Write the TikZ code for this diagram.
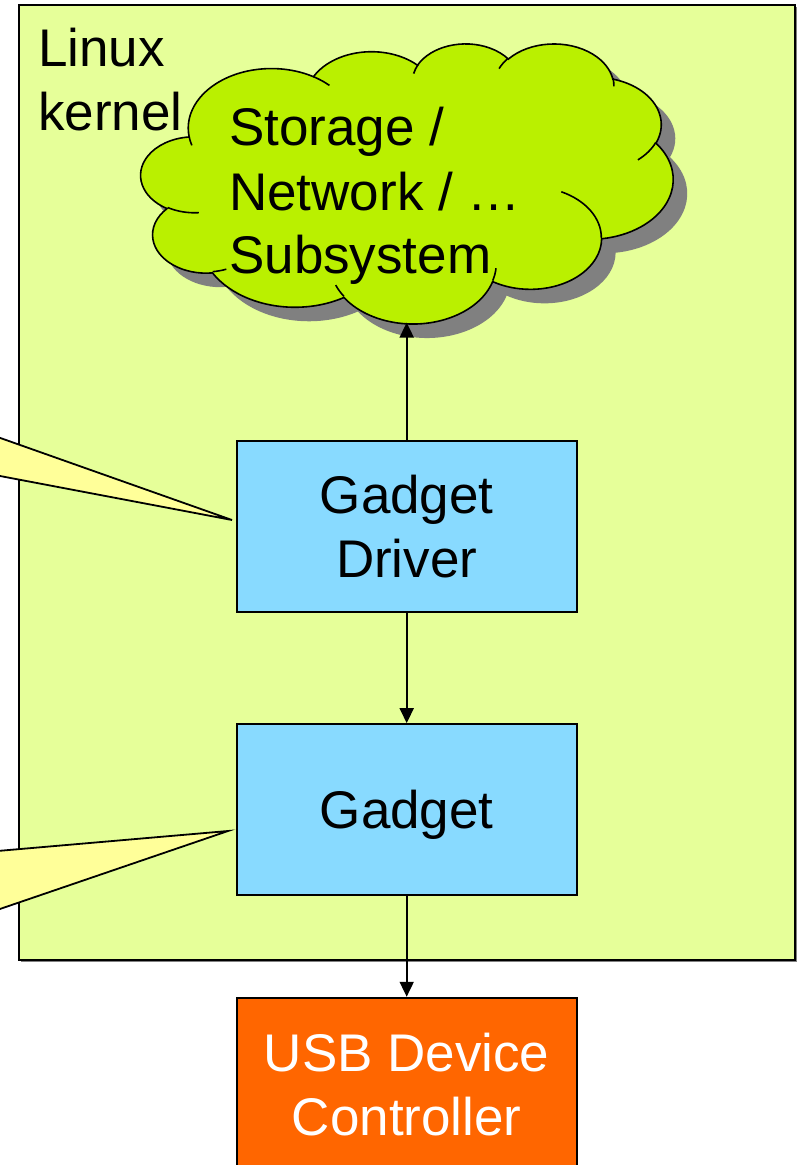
\documentclass[tikz,border=0pt]{standalone}
\usepackage{fontspec}
\setmainfont{Liberation Sans}
\usetikzlibrary{arrows.meta}
\definecolor{kernelbg}{RGB}{230,255,153}
\definecolor{cloudgreen}{RGB}{186,240,0}
\definecolor{boxblue}{RGB}{136,218,255}
\definecolor{usborange}{RGB}{255,102,0}
\definecolor{calloutyellow}{RGB}{255,255,153}
\definecolor{shadowgray}{RGB}{128,128,128}

% cloud (PowerPoint preset geometry, path units /1000) mapped to box (141,43)-(673,323)
\def\cldsx{12.3148148}
\def\cldsy{6.4814815}
\def\cldox{141}
\def\cldoy{43}
\newcommand\cldmove[2]{%
  \pgfmathsetmacro\cldtx{\cldox+#1*\cldsx}%
  \pgfmathsetmacro\cldty{\cldoy+#2*\cldsy}%
  \xdef\cldpath{\cldpath (\cldtx,\cldty)}}
\newcommand\cldarc[4]{%
  \pgfmathsetmacro\cldr{#1/#2}%
  \pgfmathsetmacro\cldts{atan2(sin(#3)*\cldr,cos(#3))}%
  \pgfmathsetmacro\cldte{atan2(sin(#3+#4)*\cldr,cos(#3+#4))}%
  \pgfmathsetmacro\cldd{-1*mod(\cldte-\cldts+720,360)}%
  \pgfmathsetmacro\cldns{-1*(\cldts)}%
  \pgfmathsetmacro\cldrx{#1*\cldsx}%
  \pgfmathsetmacro\cldry{#2*\cldsy}%
  \xdef\cldpath{\cldpath arc[start angle=\cldns, delta angle=\cldd, x radius=\cldrx pt, y radius=\cldry pt]}}

\tikzset{
  bigtext/.style={font=\fontsize{53}{64}\selectfont, inner sep=0pt, anchor=base},
  kernelbox/.style={draw=black, line width=1.8pt, fill=kernelbg, rectangle, inner sep=0pt},
  bluebox/.style={draw=black, line width=1.8pt, fill=boxblue, rectangle, inner sep=0pt,
                  minimum width=340pt, minimum height=170.7pt},
  usbbox/.style={bluebox, fill=usborange},
  callout/.style={draw=black, line width=1.8pt, fill=calloutyellow, line join=miter},
  conn/.style={line width=1.8pt, -{Triangle[length=15pt,width=14pt]}},
}

\begin{document}
\begin{tikzpicture}[x=1pt, y=-1pt]
\useasboundingbox (0,0) rectangle (798,1165);
\fill[white] (0,0) rectangle (798,1165);
\clip (0,0) rectangle (798,1165);

% build cloud outline
\gdef\cldpath{}
\cldmove{3.900}{14.370}
\cldarc{6.753}{9.190}{-190.48748}{123.78053}
\cldarc{5.333}{7.267}{-144.10238}{89.94523}
\cldarc{4.365}{5.945}{-145.80792}{99.72302}
\cldarc{4.857}{6.595}{-130.98607}{117.24173}
\cldarc{5.333}{7.273}{-78.70888}{109.02692}
\cldarc{6.775}{9.220}{-46.26725}{130.269}
\cldarc{5.785}{7.867}{0.62502}{114.03333}
\cldarc{6.752}{9.215}{22.4516}{115.17255}
\cldarc{7.720}{10.543}{66.24263}{75.71102}
\cldarc{4.360}{5.918}{-274.94208}{146.73557}
\cldarc{4.345}{5.945}{-246.8285}{152.51885}
\global\let\cldmain\cldpath
% inner arcs of the cloud
\gdef\cldpath{}
\cldmove{4.693}{26.177}\cldarc{4.345}{5.945}{86.742}{26.4295}
\cldmove{6.928}{34.899}\cldarc{4.360}{5.918}{73.61047}{11.44747}
\cldmove{16.478}{39.090}\cldarc{6.752}{9.215}{137.62415}{14.0811}
\cldmove{28.827}{34.751}\cldarc{6.752}{9.215}{6.45327}{15.99835}
\cldmove{34.129}{22.954}\cldarc{5.785}{7.867}{-70.29235}{70.91737}
\cldmove{41.798}{15.354}\cldarc{5.333}{7.273}{30.31803}{27.7515}
\cldmove{38.324}{5.426}\cldarc{4.857}{6.595}{-13.74433}{14.8589}
\cldmove{29.078}{3.952}\cldarc{4.857}{6.595}{-149.18145}{18.19537}
\cldmove{22.141}{4.720}\cldarc{4.365}{5.945}{-163.49427}{17.68635}
\cldmove{14.000}{5.192}\cldarc{6.753}{9.190}{-66.70695}{12.31935}
\cldmove{4.127}{15.789}\cldarc{6.753}{9.190}{157.65435}{11.85817}
\global\let\cldinner\cldpath

% Linux kernel container
\fill[shadowgray] (20.5,6.5) rectangle (796.5,961.5);
\node[kernelbox, minimum width=776pt, minimum height=955pt] (kernel) at (407,482.5) {};
\node[bigtext, anchor=base west] (lk1) at (38,66.7) {Linux};
\node[bigtext, anchor=base west] (lk2) at (38,130) {kernel};

% cloud with shadow
\fill[shadowgray, shift={(14,14)}] \cldmain -- cycle;
\filldraw[fill=cloudgreen, draw=black, line width=1.6pt] \cldmain -- cycle;
\draw[black, line width=1.6pt] \cldinner;
\coordinate (cloudbot) at (406.7,322.5);
\node[bigtext, anchor=base west] (c1) at (229,145) {Storage /};
\node[bigtext, anchor=base west] (c2) at (229,210) {Network / …};
\node[bigtext, anchor=base west] (c3) at (229,273.3) {Subsystem};

% boxes
\node[bluebox] (drv) at (406.7,526.4) {};
\node[bigtext] (drvt1) at ([yshift=13.4pt]drv.center) {Gadget};
\node[bigtext] (drvt2) at ([yshift=-51.3pt]drv.center) {Driver};

\node[bluebox] (gad) at (406.7,809.4) {};
\node[bigtext] (gadt) at ([yshift=-19.2pt]gad.center) {Gadget};

\node[usbbox] (usb) at (406.7,1083) {};
\node[bigtext, text=white] (usbt1) at (406.7,1071.7) {USB Device};
\node[bigtext, text=white] (usbt2) at (406.7,1135) {Controller};

% connectors
\draw[conn] (drv.north) -- (cloudbot);
\draw[conn] (drv.south) -- (gad.north);
\draw[conn] (gad.south) -- (usb.north);

% callout pointers (bodies lie off the page to the left)
\coordinate (tip1) at (232,520);
\coordinate (tip2) at (228,831);
\coordinate (c1a) at (-20,430.8);
\coordinate (c1b) at (-20,472.2);
\coordinate (c2a) at (-20,852.5);
\coordinate (c2b) at (-20,915.8);
\filldraw[callout] (c1a) -- (tip1) -- (c1b) -- cycle;
\filldraw[callout] (c2a) -- (tip2) -- (c2b) -- cycle;
\end{tikzpicture}
\end{document}
